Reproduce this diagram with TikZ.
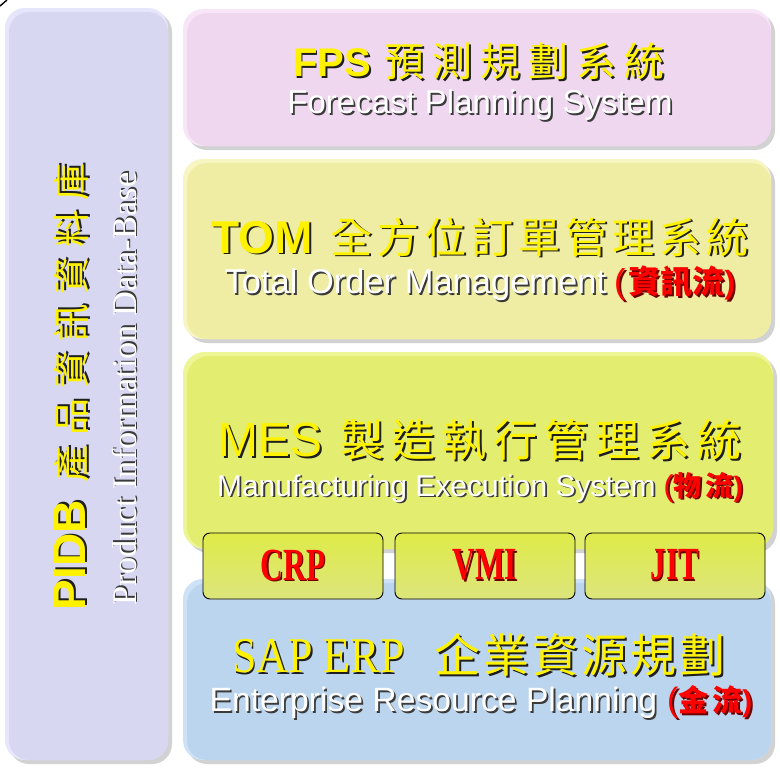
\documentclass[tikz,border=0pt]{standalone}
\usepackage{fontspec}
\setmainfont{Liberation Serif}
\setsansfont{Liberation Sans}
\newfontfamily\cjk{Noto Sans CJK TC}
\definecolor{shadowgrey}{HTML}{D2D2D2}
\definecolor{pidbrim}{HTML}{E5E5FB}
\definecolor{pidbfill}{HTML}{D7D7F1}
\definecolor{fpsrim}{HTML}{F8E6F8}
\definecolor{fpsfill}{HTML}{EFD7EF}
\definecolor{tomrim}{HTML}{F7F6C2}
\definecolor{tomfill}{HTML}{EFEDA3}
\definecolor{mesrim}{HTML}{EDF595}
\definecolor{mesfill}{HTML}{E3ED70}
\definecolor{saprim}{HTML}{CDE2F7}
\definecolor{sapfill}{HTML}{BCD5EE}
\definecolor{subtop}{HTML}{DFEB48}
\definecolor{subbot}{HTML}{DCE57C}
\definecolor{ttlshadow}{HTML}{1E1E1E}
\definecolor{subshadow}{HTML}{3A3A3A}
\definecolor{redshadow}{HTML}{6A0000}
\newcommand\shd[3]{\leavevmode\rlap{\hspace{1.8pt}\raisebox{-1.8pt}{\textcolor{#1}{#3}}}\textcolor{#2}{#3}}
\newcommand\gp[1]{\hspace{#1pt}}
\newcommand\fsz[1]{\fontsize{#1}{#1}\selectfont}
% x1 y1 x2 y2 rim fill radius
\newcommand\bevelbox[7]{%
  \fill[shadowgrey,rounded corners=#7] ({#1+4},{#2+4}) rectangle ({#3+4},{#4+4});
  \fill[#5,rounded corners=#7] (#1,#2) rectangle (#3,#4);
  \fill[#6,rounded corners=#7] ({#1+4},{#2+4}) rectangle (#3,#4);
}
\begin{document}
\begin{tikzpicture}[x=1pt,y=-1pt,
  txt/.style={inner sep=0pt,anchor=center},
  subbox/.style={draw=black,line width=0.9pt,rounded corners=7pt,top color=subtop,bottom color=subbot,
     minimum width=180pt,minimum height=66pt,inner sep=0pt}]
\useasboundingbox[fill=white] (0,0) rectangle (780,769);
\draw[line width=1.4pt] (0,6) -- (7,0);
% boxes
\bevelbox{5}{8}{168}{760}{pidbrim}{pidbfill}{20pt}
\bevelbox{183}{9}{771}{146}{fpsrim}{fpsfill}{20pt}
\bevelbox{183}{159}{771}{339}{tomrim}{tomfill}{20pt}
\bevelbox{183}{352}{773}{549}{mesrim}{mesfill}{22pt}
\bevelbox{183}{579}{771}{760}{saprim}{sapfill}{20pt}
% PIDB
\node[txt,rotate=90] (pidbT) at (72,387) {\fsz{46}\shd{ttlshadow}{yellow}{\sffamily\bfseries PIDB}\gp{18}\shd{ttlshadow}{yellow}{\cjk\fsz{37}產\gp{10}品\gp{10}資\gp{10}訊\gp{10}資\gp{10}料\gp{10}庫}};
\node[txt,rotate=90] (pidbS) at (125,389) {\fsz{34.5}\shd{subshadow}{white}{Product Information Data-Base}};
% FPS
\node[txt] (fpsT) at (479,62) {\fsz{40}\shd{ttlshadow}{yellow}{\sffamily\bfseries FPS}\gp{14}\shd{ttlshadow}{yellow}{\cjk 預\gp{8}測\gp{8}規\gp{8}劃\gp{8}系\gp{8}統}};
\node[txt] (fpsS) at (480,106) {\fsz{33}\shd{subshadow}{white}{\sffamily Forecast Planning System}};
% TOM
\node[txt] (tomT) at (480,238) {\fsz{46}\shd{ttlshadow}{yellow}{\sffamily\bfseries TOM}\gp{18}\shd{ttlshadow}{yellow}{\cjk\fsz{42}全\gp{5}方\gp{5}位\gp{5}訂\gp{5}單\gp{5}管\gp{5}理\gp{5}系\gp{5}統}};
\node[txt] (tomS) at (480,284) {\fsz{34.5}\shd{subshadow}{white}{\sffamily Total Order Management}\gp{8}\shd{redshadow}{red}{\sffamily(\gp{3}\cjk\bfseries\fsz{32}資訊流\sffamily)}};
% MES
\node[txt] (mesT) at (480,441) {\fsz{48}\shd{ttlshadow}{yellow}{\sffamily MES}\gp{18}\shd{ttlshadow}{yellow}{\cjk\fsz{44}製\gp{7}造\gp{7}執\gp{7}行\gp{7}管\gp{7}理\gp{7}系\gp{7}統}};
\node[txt] (mesS) at (480,488) {\fsz{30}\shd{subshadow}{white}{\sffamily Manufacturing Execution System}\gp{8}\shd{redshadow}{red}{\sffamily(\cjk\bfseries\fsz{28}物\gp{4}流\sffamily)}};
% sub boxes
\node[subbox] (crp) at (293,566) {};
\node[subbox] (vmi) at (485,566) {};
\node[subbox] (jit) at (675,566) {};
\node[txt] (crpT) at (crp) {\scalebox{0.68}[1]{\fsz{46}\shd{redshadow}{red}{\bfseries CRP}}};
\node[txt] (vmiT) at (vmi) {\scalebox{0.68}[1]{\fsz{46}\shd{redshadow}{red}{\bfseries VMI}}};
\node[txt] (jitT) at (jit) {\scalebox{0.68}[1]{\fsz{46}\shd{redshadow}{red}{\bfseries JIT}}};
% SAP
\node[txt] (sapT) at (479,656) {\scalebox{0.88}[1]{\fsz{50}\shd{ttlshadow}{yellow}{SAP ERP}}\gp{30}\shd{ttlshadow}{yellow}{\cjk\fsz{46}企\gp{3}業\gp{3}資\gp{3}源\gp{3}規\gp{3}劃}};
\node[txt] (sapS) at (481,703) {\fsz{33.7}\shd{subshadow}{white}{\sffamily Enterprise Resource Planning}\gp{10}\shd{redshadow}{red}{\sffamily(\cjk\bfseries\fsz{30}金\gp{4}流\sffamily)}};
\end{tikzpicture}
\end{document}
